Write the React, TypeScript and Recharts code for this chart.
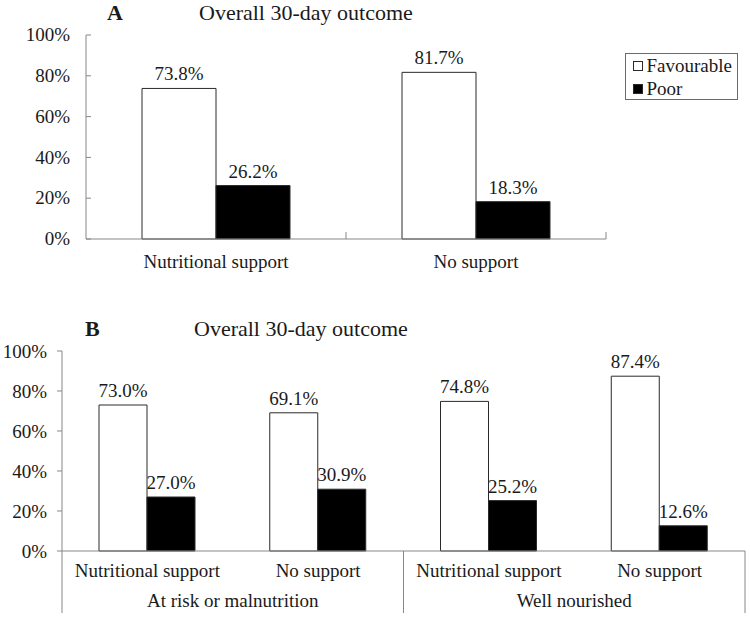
import React from 'react';
import { BarChart, Bar, XAxis, YAxis, LabelList, Legend } from 'recharts';

const FONT = '"Liberation Serif", "Times New Roman", Times, serif';
const TEXT = '#1a1a1a';
const AXIS = '#878787';
const BAR_STROKE = '#2a2a2a';

const titleText = 'Overall 30-day outcome';
const panelLetters = ['A', 'B'];
const seriesNames = ['Favourable', 'Poor'];
const yTicks = [0, 20, 40, 60, 80, 100];

const categoriesA = ['Nutritional support', 'No support'];
const favourableA = [73.8, 81.7];
const poorA = [26.2, 18.3];

const subCategoriesB = ['Nutritional support', 'No support', 'Nutritional support', 'No support'];
const groupsB = ['At risk or malnutrition', 'At risk or malnutrition', 'Well nourished', 'Well nourished'];
const favourableB = [73.0, 69.1, 74.8, 87.4];
const poorB = [27.0, 30.9, 25.2, 12.6];

const dataA = categoriesA.map((c, i) => ({ name: c, fav: favourableA[i], poor: poorA[i] }));
const dataB = subCategoriesB.map((c, i) => ({ name: c, group: groupsB[i], fav: favourableB[i], poor: poorB[i] }));

const pct = (v: number) => `${v}%`;
const pct1 = (v: any) => `${Number(v).toFixed(1)}%`;

// layout of chart A
const A_W = 750;
const A_H = 300;
const A_XH = 61;
const A_MARGIN = { top: 35, right: 144, bottom: 0, left: 0 };
const A_YW = 86;
const BAND_A = (A_W - A_MARGIN.right - A_YW) / categoriesA.length;

// layout of chart B
const B_W = 750;
const B_H = 317;
const B_XH = 66;
const B_MARGIN = { top: 51, right: 5, bottom: 0, left: 0 };
const B_YW = 62;
const BAND_B = (B_W - B_MARGIN.right - B_YW) / subCategoriesB.length;

const YTickInside = (p: any) => (
  <g>
    <line x1={p.x} x2={p.x + 5} y1={p.y} y2={p.y} stroke={AXIS} />
    <text x={p.x - 16} y={p.y} dy="0.33em" textAnchor="end" fontSize={19} fontFamily={FONT} fill={TEXT}>
      {pct(p.payload.value)}
    </text>
  </g>
);

const XTickA = (p: any) => {
  const half = BAND_A / 2;
  return (
    <g>
      <line x1={p.x + half} x2={p.x + half} y1={p.y} y2={p.y - 7} stroke={AXIS} />
      <text x={p.x} y={p.y + 29} textAnchor="middle" fontSize={19} fontFamily={FONT} fill={TEXT}>
        {p.payload.value}
      </text>
    </g>
  );
};

const XTickB = (p: any) => {
  const i: number = p.index ?? p.payload?.index ?? 0;
  const half = BAND_B / 2;
  const n = subCategoriesB.length;
  return (
    <g>
      <text x={p.x} y={p.y + 26} textAnchor="middle" fontSize={19} fontFamily={FONT} fill={TEXT}>
        {p.payload.value}
      </text>
      {i % 2 === 0 && (
        <line x1={p.x - half} x2={p.x - half} y1={p.y} y2={p.y + 62} stroke={AXIS} />
      )}
      {i % 2 === 0 && (
        <text x={p.x + half} y={p.y + 56} textAnchor="middle" fontSize={19} fontFamily={FONT} fill={TEXT}>
          {groupsB[i]}
        </text>
      )}
      {i === n - 1 && (
        <line x1={p.x + half} x2={p.x + half} y1={p.y} y2={p.y + 62} stroke={AXIS} />
      )}
    </g>
  );
};

const LegendBox = () => (
  <div
    style={{
      width: 113,
      height: 47,
      boxSizing: 'border-box',
      border: '1px solid #6b6b6b',
      background: '#fff',
    }}
  >
    <svg width={111} height={45} style={{ display: 'block' }}>
      {seriesNames.map((name, i) => (
        <g key={name}>
          <rect
            x={7.5}
            y={7.5 + i * 23}
            width={9}
            height={9}
            fill={i === 0 ? '#fff' : '#000'}
            stroke={BAR_STROKE}
          />
          <text x={20.5} y={17.5 + i * 23} fontSize={19} fontFamily={FONT} fill={TEXT}>
            {name}
          </text>
        </g>
      ))}
    </svg>
  </div>
);

const labelProps = { fontSize: 19, fontFamily: FONT, fill: TEXT };

export default function App() {
  return (
    <div
      style={{
        position: 'absolute',
        left: 0,
        top: 0,
        width: 750,
        height: 617,
        background: '#fff',
        fontFamily: FONT,
        overflow: 'hidden',
      }}
    >
      <div style={{ position: 'absolute', left: 0, top: 0 }}>
        <BarChart width={A_W} height={A_H} data={dataA} margin={A_MARGIN} barGap={0}>
          <YAxis
            width={A_YW}
            domain={[0, 100]}
            ticks={yTicks}
            interval={0}
            axisLine={{ stroke: AXIS }}
            tickLine={false}
            tickSize={0}
            tickMargin={0}
            tick={YTickInside}
          />
          <XAxis
            dataKey="name"
            height={A_XH}
            interval={0}
            axisLine={{ stroke: AXIS }}
            tickLine={false}
            tickSize={0}
            tickMargin={0}
            tick={XTickA}
          />
          <Legend
            layout="horizontal"
            verticalAlign="middle"
            align="center"
            wrapperStyle={{ position: 'absolute', left: 625, top: 53, width: 113, height: 47, margin: 0 }}
            content={() => <LegendBox />}
          />
          <Bar dataKey="fav" name={seriesNames[0]} fill="#fff" stroke={BAR_STROKE} barSize={74} isAnimationActive={false}>
            <LabelList dataKey="fav" position="top" offset={8} formatter={pct1} {...labelProps} />
          </Bar>
          <Bar dataKey="poor" name={seriesNames[1]} fill="#000" stroke={BAR_STROKE} barSize={74} isAnimationActive={false}>
            <LabelList dataKey="poor" position="top" offset={8} formatter={pct1} {...labelProps} />
          </Bar>
        </BarChart>
      </div>
      <div style={{ position: 'absolute', left: 0, top: 300 }}>
        <BarChart width={B_W} height={B_H} data={dataB} margin={B_MARGIN} barGap={0}>
          <YAxis
            width={B_YW}
            domain={[0, 100]}
            ticks={yTicks}
            interval={0}
            tickFormatter={pct}
            axisLine={{ stroke: AXIS }}
            tickLine={{ stroke: AXIS }}
            tickSize={5}
            tickMargin={10}
            tick={{ fontSize: 19, fontFamily: FONT, fill: TEXT }}
          />
          <XAxis
            dataKey="name"
            height={B_XH}
            interval={0}
            axisLine={{ stroke: AXIS }}
            tickLine={false}
            tickSize={0}
            tickMargin={0}
            tick={XTickB}
          />
          <Bar dataKey="fav" name={seriesNames[0]} fill="#fff" stroke={BAR_STROKE} barSize={48} isAnimationActive={false}>
            <LabelList dataKey="fav" position="top" offset={8} formatter={pct1} {...labelProps} />
          </Bar>
          <Bar dataKey="poor" name={seriesNames[1]} fill="#000" stroke={BAR_STROKE} barSize={48} isAnimationActive={false}>
            <LabelList dataKey="poor" position="top" offset={8} formatter={pct1} {...labelProps} />
          </Bar>
        </BarChart>
      </div>
      <svg
        width={750}
        height={617}
        style={{ position: 'absolute', left: 0, top: 0, pointerEvents: 'none' }}
      >
        <text x={107} y={19.5} fontSize={22} fontWeight="bold" fontFamily={FONT} fill={TEXT}>
          {panelLetters[0]}
        </text>
        <text x={199} y={19.5} fontSize={22} fontFamily={FONT} fill={TEXT}>
          {titleText}
        </text>
        <text x={85} y={336} fontSize={22} fontWeight="bold" fontFamily={FONT} fill={TEXT}>
          {panelLetters[1]}
        </text>
        <text x={194} y={336} fontSize={22} fontFamily={FONT} fill={TEXT}>
          {titleText}
        </text>
      </svg>
    </div>
  );
}
